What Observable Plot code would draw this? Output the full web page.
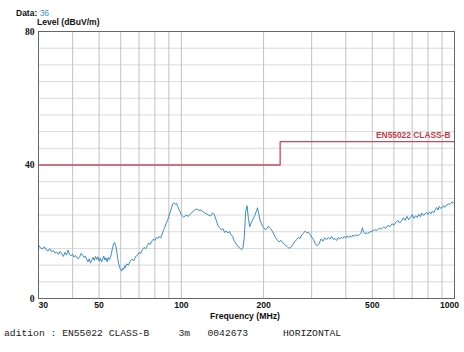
<!DOCTYPE html>
<html><head><meta charset="utf-8">
<script src="https://cdn.jsdelivr.net/npm/d3@7"></script>
<script src="https://cdn.jsdelivr.net/npm/@observablehq/plot@0.6"></script>
<style>
body{margin:0;background:#fff;}
#wrap{position:relative;width:464px;height:352px;overflow:hidden;font-family:"Liberation Sans",Arial,sans-serif;}
#wrap svg{position:absolute;left:0;top:0;}
.lbl{position:absolute;white-space:pre;line-height:1;color:#111;}
</style></head><body><div id="wrap"></div>
<script>
// Measured sweep: frequency (MHz) and level (dBuV/m)
const freqMHz = [
 30, 30.5, 31, 31.5, 32, 32.5, 33, 33.5, 34, 34.5,
 35, 35.5, 36, 36.5, 37, 37.5, 38, 38.5, 39, 39.5,
 40, 40.5, 41, 41.5, 42, 42.5, 43, 43.5, 44, 44.5,
 45, 45.5, 46, 46.5, 47, 47.5, 48, 48.5, 49, 49.5,
 50, 50.5, 51, 51.5, 52, 52.5, 53, 53.5, 54, 54.5,
 55, 55.5, 56, 56.5, 57, 57.5, 58, 58.5, 59, 59.5,
 60, 60.5, 61, 61.5, 62, 62.5, 63, 64, 65, 66,
 67, 68, 69, 70, 71, 72, 73, 74, 75, 76,
 77, 78, 79, 80, 81, 82, 83, 84, 85, 86,
 87, 88, 89, 90, 91, 92, 93, 94, 95, 96,
 97, 98, 99, 100, 102, 104, 106, 108, 110, 112,
 114, 116, 118, 120, 122, 124, 126, 128, 130, 132,
 134, 136, 138, 140, 142, 144, 146, 148, 150, 152,
 154, 156, 158, 160, 162, 164, 166, 168, 170, 172,
 174, 176, 178, 180, 182, 184, 186, 188, 190, 192,
 194, 196, 198, 200, 204, 208, 212, 216, 220, 224,
 228, 232, 236, 240, 244, 248, 252, 256, 260, 264,
 268, 272, 276, 280, 284, 288, 292, 296, 300, 305,
 310, 315, 320, 325, 330, 335, 340, 345, 350, 355,
 360, 365, 370, 375, 380, 385, 390, 395, 400, 405,
 410, 415, 420, 425, 430, 435, 440, 445, 450, 455,
 460, 465, 470, 475, 480, 490, 500, 510, 520, 530,
 540, 550, 560, 570, 580, 590, 600, 610, 620, 630,
 640, 650, 660, 670, 680, 690, 700, 710, 720, 730,
 740, 750, 760, 770, 780, 790, 800, 810, 820, 830,
 840, 850, 860, 870, 880, 890, 900, 910, 920, 930,
 940, 950, 960, 970, 980, 990, 1000
];
const levelDb = [
 16.0, 15.2, 14.8, 15.5, 14.6, 14.2, 14.9, 14.0, 14.4, 13.6,
 13.9, 13.2, 14.1, 13.4, 12.6, 13.8, 13.0, 14.5, 13.1, 12.8,
 13.3, 12.4, 12.9, 12.2, 11.9, 12.6, 13.5, 13.0, 12.3, 12.7,
 11.8, 11.0, 11.9, 10.6, 11.5, 12.3, 11.4, 12.6, 11.7, 12.5,
 11.2, 12.1, 10.9, 11.8, 12.7, 11.5, 12.2, 11.0, 12.3, 11.6,
 12.4, 13.6, 15.2, 16.4, 16.8, 15.9, 14.2, 12.0, 10.3, 9.2,
 8.6, 8.2, 9.1, 8.7, 9.8, 9.3, 10.4, 10.0, 11.2, 11.8,
 11.3, 12.6, 12.9, 13.8, 13.5, 14.6, 15.3, 14.9, 15.8, 16.6,
 16.2, 17.2, 17.8, 17.4, 18.3, 18.0, 18.6, 18.1, 19.3, 20.4,
 21.3, 22.5, 23.4, 24.6, 25.8, 27.2, 28.4, 28.7, 28.2, 28.5,
 27.6, 26.7, 26.0, 25.1, 24.3, 25.0, 24.6, 25.4, 25.9, 26.6,
 26.8, 26.4, 26.5, 26.0, 25.6, 25.3, 25.0, 24.7, 25.6, 25.2,
 23.6, 22.0, 21.2, 20.6, 20.9, 19.8, 20.2, 19.6, 20.1, 19.2,
 18.6, 17.4, 16.6, 16.0, 15.4, 15.1, 14.6, 15.0, 18.5, 26.0,
 27.8, 24.0, 21.5, 22.6, 23.4, 24.2, 25.0, 26.0, 27.2, 25.4,
 23.6, 22.6, 21.8, 21.2, 20.6, 21.6, 21.0, 20.0, 18.6, 17.6,
 17.0, 17.4, 16.6, 16.0, 15.6, 15.0, 15.4, 16.2, 17.0, 17.6,
 18.3, 18.0, 19.0, 19.6, 20.2, 19.7, 19.8, 19.2, 18.4, 17.6,
 16.2, 15.8, 16.6, 17.9, 17.2, 18.2, 17.6, 18.3, 17.8, 18.6,
 17.7, 18.0, 17.4, 18.2, 17.9, 18.3, 18.0, 18.6, 18.1, 18.8,
 18.3, 18.7, 18.4, 19.0, 18.6, 19.1, 18.8, 19.0, 19.2, 19.6,
 21.2, 20.0, 19.4, 19.7, 19.5, 19.9, 20.2, 20.6, 20.4, 21.1,
 20.8, 21.4, 21.0, 21.9, 21.5, 22.4, 22.0, 22.8, 23.4, 22.6,
 23.2, 24.2, 23.4, 24.6, 23.6, 24.3, 25.1, 24.0, 24.8, 24.3,
 25.2, 24.5, 25.6, 24.9, 25.3, 25.8, 25.2, 25.9, 25.4, 26.2,
 25.7, 26.6, 27.3, 26.5, 27.6, 27.0, 27.2, 27.8, 27.3, 27.9,
 28.0, 28.4, 28.1, 28.6, 28.9, 28.7, 28.8
];

// EN55022 Class B limit (3 m)
const limitFreq = [30, 230, 230, 1000];
const limitLevel = [40, 40, 47, 47];
const limitName = "EN55022 CLASS-B";

// Axes / grid
const xGrid = [30, 40, 50, 60, 70, 80, 90, 100, 200, 300, 400, 500, 600, 700, 800, 900, 1000];
const xTickLabels = [30, 50, 100, 200, 500, 1000];
const yGrid = [5, 10, 15, 20, 25, 30, 35, 40, 45, 50, 55, 60, 65, 70, 75];
const yTicks = [0, 40, 80];

const headerData = "36";
const yTitle = "Level (dBuV/m)";
const xTitle = "Frequency (MHz)";
const footer = "adition : EN55022 CLASS-B     3m   0042673      HORIZONTAL";

const sweep = freqMHz.map((f, i) => ({f, v: levelDb[i]}));
const limitTable = limitFreq.map((f, i) => ({f, v: limitLevel[i]}));

const tickFont = {fontFamily: "Liberation Sans", fontWeight: "bold", fontSize: 8.6, fill: "#111"};

const chart = Plot.plot({
  width: 464, height: 352,
  marginLeft: 38, marginRight: 10, marginTop: 31, marginBottom: 54,
  style: {background: "transparent", fontFamily: "Liberation Sans", overflow: "visible"},
  x: {type: "log", domain: [30, 1000], axis: null},
  y: {domain: [0, 80], axis: null},
  marks: [
    Plot.ruleY(yGrid, {stroke: "#dadada", strokeWidth: 1}),
    Plot.ruleX(xGrid, {stroke: "#c2c2c2", strokeWidth: 1}),
    Plot.line(limitTable, {x: "f", y: "v", stroke: "#c84a5a", strokeWidth: 1.3}),
    Plot.line(sweep, {x: "f", y: "v", stroke: "#3a8cc6", strokeWidth: 1}),
    Plot.frame({stroke: "#666"}),
    Plot.text([limitName], {x: 1000, y: 47, text: d => d, textAnchor: "end", dx: -4, dy: -6,
      fill: "#c63a4c", fontWeight: "bold", fontSize: 8.4, fontFamily: "Liberation Sans"}),
    Plot.text(yTicks, {y: d => d, text: d => String(d), frameAnchor: "left", textAnchor: "end", dx: -4,
      fontFamily: "Liberation Serif", fontWeight: "bold", fontSize: 9.5, fill: "#111"}),
    Plot.text(xTickLabels.filter(d => d === 30), {x: d => d, text: d => String(d), frameAnchor: "bottom",
      textAnchor: "start", dy: 9, ...tickFont}),
    Plot.text(xTickLabels.filter(d => d !== 30 && d !== 1000), {x: d => d, text: d => String(d), frameAnchor: "bottom",
      dy: 9, ...tickFont}),
    Plot.text(xTickLabels.filter(d => d === 1000), {x: d => d, text: d => String(d), frameAnchor: "bottom",
      dx: -5, dy: 9, ...tickFont})
  ]
});

const wrap = document.getElementById("wrap");
wrap.append(chart);

function label(text, style) {
  const el = document.createElement("div");
  el.className = "lbl";
  el.textContent = text;
  Object.assign(el.style, style);
  wrap.append(el);
  return el;
}
const data = label("Data: ", {left: "16px", top: "9.4px", fontSize: "8.5px", fontWeight: "bold"});
const num = document.createElement("span");
num.textContent = headerData;
num.style.color = "#3a8fd8";
num.style.fontWeight = "normal";
data.append(num);
label(yTitle, {left: "37px", top: "18.4px", fontSize: "8.6px", fontWeight: "bold"});
label(xTitle, {left: "245px", top: "311.7px", fontSize: "8.7px", fontWeight: "bold", transform: "translateX(-50%)"});
label(footer, {left: "4px", top: "328.8px", fontSize: "9.7px", fontFamily: "'Liberation Mono', monospace", color: "#222"});
</script>
</body></html>
